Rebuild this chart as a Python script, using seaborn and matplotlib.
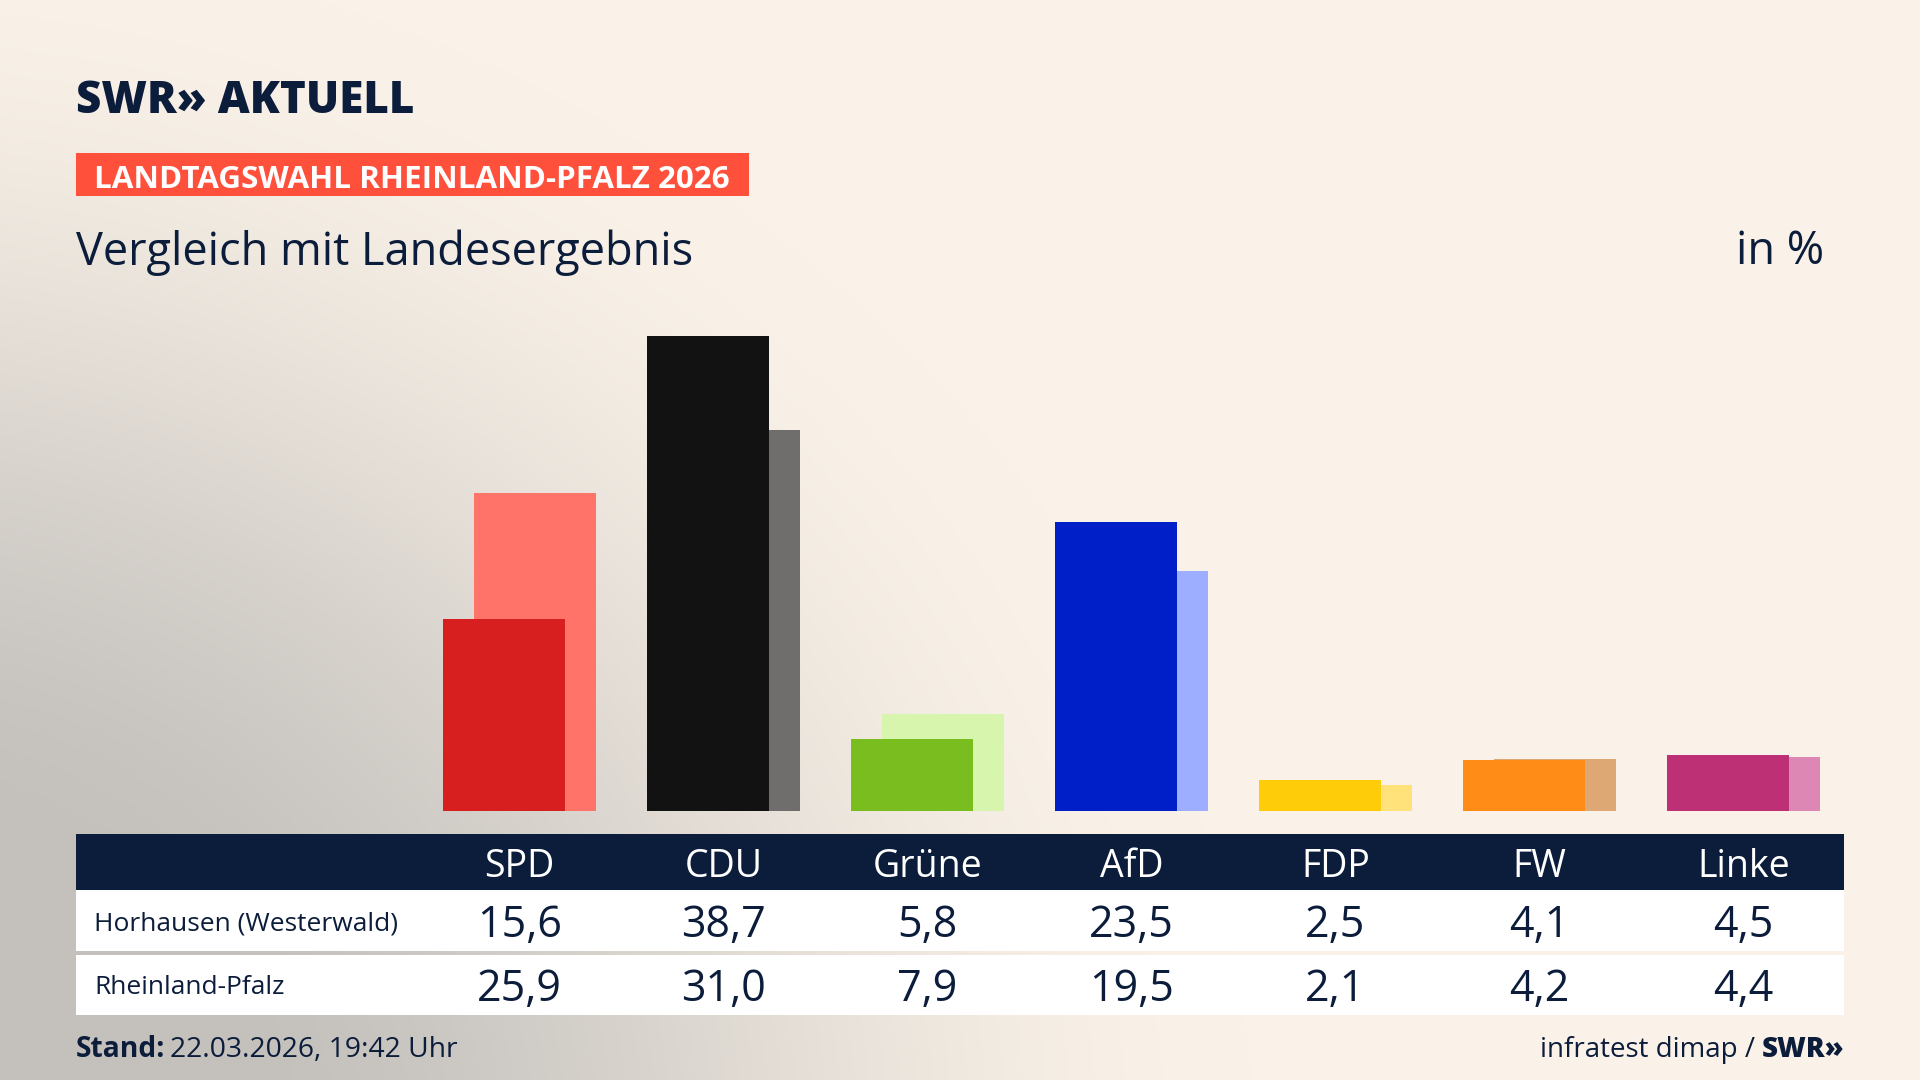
import numpy as np
import pandas as pd
import matplotlib
matplotlib.use("Agg")
import matplotlib.pyplot as plt
import matplotlib.transforms as mtransforms
from matplotlib.patches import Rectangle
import seaborn as sns

# -------------------------------
# 1. Data
# -------------------------------
parties = ["SPD", "CDU", "Grüne", "AfD", "FDP", "FW", "Linke"]
horhausen = [15.6, 38.7, 5.8, 23.5, 2.5, 4.1, 4.5]
rheinland_pfalz = [25.9, 31.0, 7.9, 19.5, 2.1, 4.2, 4.4]
row_labels = ["Horhausen (Westerwald)", "Rheinland-Pfalz"]

front_colors = ["#d81f1f", "#121212", "#79bd1e", "#001fc8", "#ffcc0a", "#ff8c17", "#bd3075"]
back_colors = ["#ff7369", "#706e6c", "#d8f5ae", "#9dadff", "#ffe27a", "#dea874", "#dd88b4"]

NAVY = "#0c1d3b"
BANNER = "#ff503c"

df = pd.DataFrame({
    "party": parties,
    "pos": np.arange(len(parties)),
    "local": horhausen,
    "state": rheinland_pfalz,
})

# -------------------------------
# 2. Figure setup (pixel layout of 1920x1080)
# -------------------------------
sns.set_style("white")
plt.rcParams["font.family"] = ["Open Sans", "DejaVu Sans"]

W, H = 1920, 1080
fig = plt.figure(figsize=(19.2, 10.8), dpi=100)
renderer = fig.canvas.get_renderer()

# background gradient: grey in the lower left, cream elsewhere
ax_bg = fig.add_axes([0, 0, 1, 1], zorder=0)
yy, xx = np.mgrid[0:H, 0:W]
d = np.hypot((xx + 150) / 1.15, yy - 1150)
t = np.clip((d - 320) / 900, 0, 1)
t = t * t * (3 - 2 * t)
grey = np.array([196, 193, 189]) / 255
cream = np.array([250, 242, 232]) / 255
ax_bg.imshow(grey + (cream - grey) * t[..., None], extent=(0, W, H, 0), aspect="auto")
ax_bg.axis("off")

# -------------------------------
# 3. Bars
# -------------------------------
x0_px, step_px = 504.25, 204.0     # centre of first front bar, category spacing
base_px, unit_px = 810.6, 12.27    # baseline from top, pixels per percent
offset = 0.15                      # shift of the state bar behind

ax = fig.add_axes([0, 0, 1, 1], zorder=1)
ax.patch.set_alpha(0)

sns.barplot(data=df, x=df["pos"] + offset, y="state", hue="party",
            palette=back_colors, native_scale=True, width=0.6, dodge=False,
            saturation=1, errorbar=None, legend=False, linewidth=0, ax=ax)
sns.barplot(data=df, x="pos", y="local", hue="party",
            palette=front_colors, native_scale=True, width=0.6, dodge=False,
            saturation=1, errorbar=None, legend=False, linewidth=0, ax=ax)

ax.set_xlim(-x0_px / step_px, (W - x0_px) / step_px)
ax.set_ylim(-(H - base_px) / unit_px, base_px / unit_px)
ax.axis("off")

# -------------------------------
# 4. Overlay: header, table, footer
# -------------------------------
ax_o = fig.add_axes([0, 0, 1, 1], zorder=2)
ax_o.patch.set_alpha(0)
ax_o.set_xlim(0, W)
ax_o.set_ylim(H, 0)
ax_o.axis("off")


def fit_text(x, y, s, width_px, size, **kw):
    txt = ax_o.text(x, y, s, fontsize=size, **kw)
    bb = txt.get_window_extent(renderer)
    txt.set_fontsize(size * width_px / bb.width)
    return txt


# logo and banner
fit_text(76, 113, "SWR» AKTUELL", 338, 34, color=NAVY, fontweight="heavy", va="baseline")
ax_o.add_patch(Rectangle((76, 153), 673, 43, color=BANNER, lw=0))
fit_text(94, 187.5, "LANDTAGSWAHL RHEINLAND-PFALZ 2026", 636, 24,
         color="white", fontweight="bold", va="baseline")

ax_o.text(76, 264.5, "Vergleich mit Landesergebnis", fontsize=32.5, color=NAVY, va="baseline")
ax_o.text(1824, 264.5, "in %", fontsize=32.5, color=NAVY, va="baseline", ha="right")

# table
ax_o.add_patch(Rectangle((76, 834), 1768, 56, color=NAVY, lw=0))
ax_o.add_patch(Rectangle((76, 890), 1768, 60.5, color="white", lw=0))
ax_o.add_patch(Rectangle((76, 954.5), 1768, 60.5, color="white", lw=0))

col_tr = mtransforms.blended_transform_factory(ax.transData, ax_o.transData)
col_x = df["pos"] + offset / 2

for x, p in zip(col_x, parties):
    ax_o.text(x, 877, p, transform=col_tr, fontsize=27, color="white",
              ha="center", va="baseline")

row_label_base = [930.6, 994.3]
row_value_base = [936.7, 1001.0]
for label, lb, vb, vals in zip(row_labels, row_label_base, row_value_base,
                               [horhausen, rheinland_pfalz]):
    ax_o.text(94, lb, label, fontsize=19, color=NAVY, va="baseline")
    for x, v in zip(col_x, vals):
        ax_o.text(x, vb, f"{v:.1f}".replace(".", ","), transform=col_tr,
                  fontsize=31, color=NAVY, ha="center", va="baseline")

# footer
st = ax_o.text(76, 1057, "Stand:", fontsize=20.3, color=NAVY, fontweight="bold", va="baseline")
bb = st.get_window_extent(renderer)
ax_o.text(76 + bb.width + 5, 1057, "22.03.2026, 19:42 Uhr", fontsize=20.3, color=NAVY,
          va="baseline")

sw = ax_o.text(1844, 1057, "SWR»", fontsize=20, color=NAVY, fontweight="heavy",
               va="baseline", ha="right")
bb = sw.get_window_extent(renderer)
ax_o.text(1844 - bb.width - 6, 1057, "infratest dimap /", fontsize=20, color=NAVY,
          va="baseline", ha="right")

fig.savefig("out.png", dpi=100)
